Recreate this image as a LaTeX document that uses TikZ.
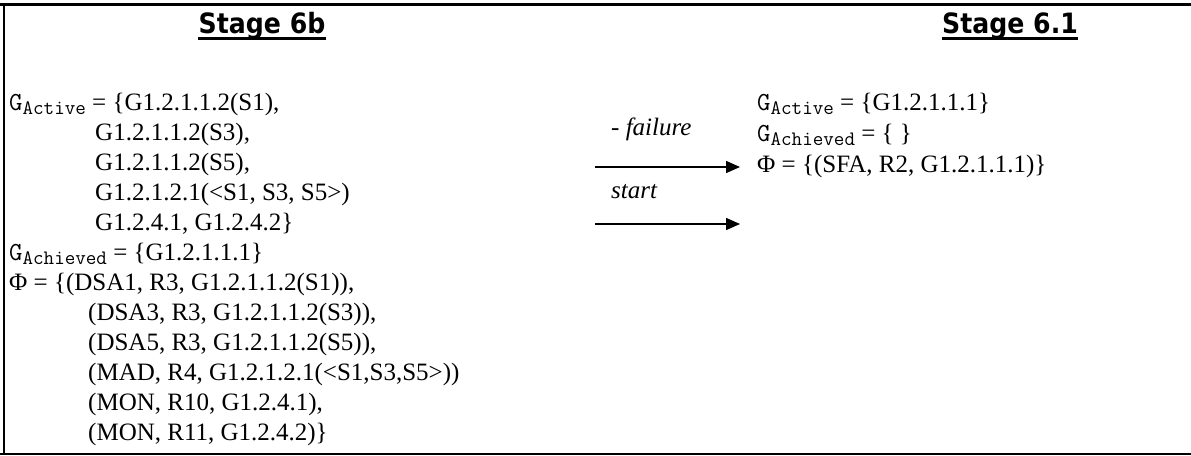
\documentclass[tikz,border=0pt]{standalone}
\usepackage{fontspec}
\setmainfont{Liberation Serif}
\newfontfamily\titlefont{DejaVu Sans}[FakeStretch=0.9]
\usetikzlibrary{arrows.meta}
\newcommand\gsub[1]{{\ttfamily\fontsize{26pt}{26pt}\selectfont G\raisebox{-4.5pt}{\fontsize{20.5pt}{20.5pt}\selectfont #1}}}
\begin{document}
\begin{tikzpicture}[x=1pt,y=-1pt,
  txt/.style={anchor=base west, inner sep=0pt, font=\fontsize{25pt}{29pt}\selectfont},
  lbl/.style={anchor=base west, inner sep=0pt, font=\fontsize{25pt}{29pt}\selectfont\itshape},
  ttl/.style={anchor=base, inner sep=0pt, font=\titlefont\bfseries\fontsize{28pt}{32pt}\selectfont},
  uline/.style={line width=3pt},
  arr/.style={line width=1.5pt, -{Triangle[length=14pt,width=12pt]}},
  frame/.style={line width=2.5pt}]
\useasboundingbox (0,0) rectangle (1191,455);
% frame (top, left, bottom)
\draw[frame, line width=3pt] (0,4.5) -- (1191,4.5);
\draw[frame] (4,3) -- (4,455);
\draw[frame, line width=2pt] (0,453.5) -- (1191,453.5);
% titles
\node[ttl] (t1) at (262,33) {Stage 6b};
\draw[uline] ([yshift=-5.5pt]t1.base west) -- ([yshift=-5.5pt]t1.base east);
\node[ttl] (t2) at (1010,33) {Stage 6.1};
\draw[uline] ([yshift=-5.5pt]t2.base west) -- ([yshift=-5.5pt]t2.base east);
% left column
\node[txt] (l0) at (9,110) {\gsub{Active} = \{G1.2.1.1.2(S1),};
\node[txt] (l1) at (95,140) {G1.2.1.1.2(S3),};
\node[txt] (l2) at (95,170) {G1.2.1.1.2(S5),};
\node[txt] (l3) at (95,200) {G1.2.1.2.1(<S1, S3, S5>)};
\node[txt] (l4) at (95,230) {G1.2.4.1, G1.2.4.2\}};
\node[txt] (l5) at (9,260) {\gsub{Achieved} = \{G1.2.1.1.1\}};
\node[txt] (l6) at (9,290) {Φ = \{(DSA1, R3, G1.2.1.1.2(S1)),};
\node[txt] (l7) at (88,320) {(DSA3, R3, G1.2.1.1.2(S3)),};
\node[txt] (l8) at (88,350) {(DSA5, R3, G1.2.1.1.2(S5)),};
\node[txt] (l9) at (88,380) {(MAD, R4, G1.2.1.2.1(<S1,S3,S5>))};
\node[txt] (l10) at (88,410) {(MON, R10, G1.2.4.1),};
\node[txt] (l11) at (88,440) {(MON, R11, G1.2.4.2)\}};
% right column
\node[txt] (r0) at (757,110) {\gsub{Active} = \{G1.2.1.1.1\}};
\node[txt] (r1) at (757,141) {\gsub{Achieved} = \{ \}};
\node[txt] (r2) at (757,172) {Φ = \{(SFA, R2, G1.2.1.1.1)\}};
% arrows
\node[lbl] (fl) at (611,135) {- failure};
\node[lbl] (sl) at (611,198) {start};
\coordinate (a1s) at (595,167);
\coordinate (a1e) at (740,167);
\coordinate (a2s) at (595,224);
\coordinate (a2e) at (740,224);
\draw[arr] (a1s) -- (a1e);
\draw[arr] (a2s) -- (a2e);
\end{tikzpicture}
\end{document}
